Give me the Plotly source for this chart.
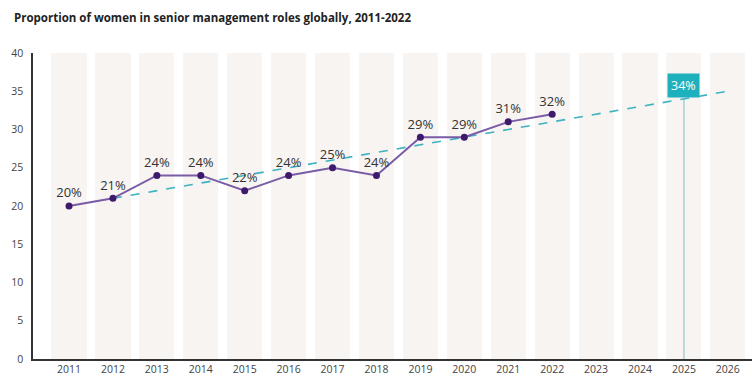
import plotly.graph_objects as go

years = list(range(2011, 2023))
share = [20, 21, 24, 24, 22, 24, 25, 24, 29, 29, 31, 32]
all_years = list(range(2011, 2027))
bg_height = [40] * len(all_years)
trend_x = [2012, 2026]
trend_y = [21, 35]
target_year = 2025
target_value = 34
y_ticks = [0, 5, 10, 15, 20, 25, 30, 35, 40]

FONT = "Open Sans"
fig = go.Figure()

fig.add_trace(go.Bar(x=all_years, y=bg_height, width=0.8,
                     marker=dict(color="#f7f4f2", line=dict(width=0)),
                     hoverinfo="skip", showlegend=False))

fig.add_trace(go.Scatter(x=[target_year, target_year], y=[0, target_value],
                         mode="lines", line=dict(color="#9fd4da", width=1.5),
                         showlegend=False, hoverinfo="skip"))

fig.add_trace(go.Scatter(x=trend_x, y=trend_y, mode="lines",
                         line=dict(color="#3db3bf", width=1.6, dash="dash"),
                         showlegend=False))

fig.add_trace(go.Scatter(x=years, y=share, mode="lines+markers+text",
                         line=dict(color="#7a5ca6", width=2),
                         marker=dict(color="#3d1a6b", size=7),
                         text=[f"{v}%" for v in share], textposition="top center",
                         textfont=dict(family=FONT, size=13, color="#333333"),
                         showlegend=False))

fig.add_annotation(x=target_year, y=target_value, text=f"{target_value}%",
                   showarrow=False, yshift=13,
                   font=dict(family=FONT, size=12.5, color="white"),
                   bgcolor="#1fb0be", borderpad=3)

fig.add_annotation(x=0, xref="paper", y=1, yref="paper", xshift=-21, yshift=36,
                   xanchor="left", yanchor="middle", showarrow=False,
                   text="<b>Proportion of women in senior management roles globally, 2011-2022</b>",
                   font=dict(family=FONT, size=11.5, color="#222222"))

fig.update_layout(
    width=752, height=378,
    margin=dict(l=33, r=0, t=53, b=19),
    paper_bgcolor="white", plot_bgcolor="white",
    bargap=0,
    xaxis=dict(range=[2010.18, 2026.55], tickmode="array", tickvals=all_years,
               ticktext=[str(y) for y in all_years], showgrid=False, zeroline=False,
               showline=True, linecolor="#333333", linewidth=1.5, ticks="",
               tickfont=dict(family=FONT, size=10.5, color="#444444")),
    yaxis=dict(range=[0, 40], tickmode="array", tickvals=y_ticks, showgrid=False,
               zeroline=False, showline=True, linecolor="#333333", linewidth=1.5,
               ticks="", ticklabelstandoff=6,
               tickfont=dict(family=FONT, size=10.5, color="#444444")),
)

fig.write_html("out.html")
